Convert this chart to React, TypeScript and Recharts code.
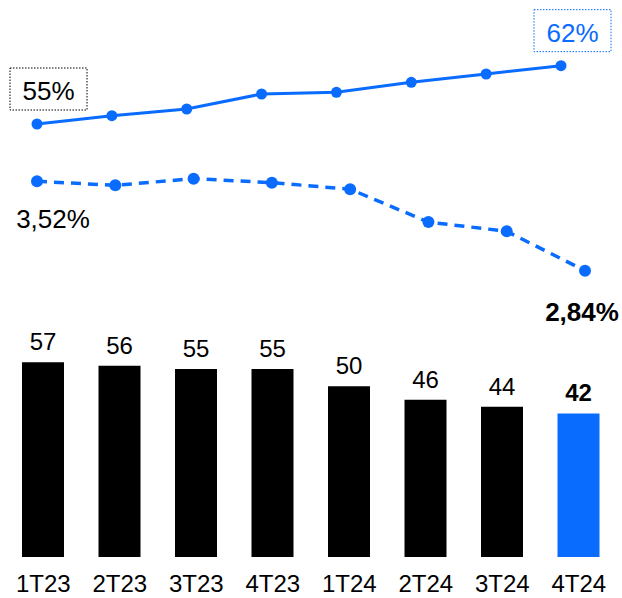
import React from 'react';
import { ComposedChart, Bar, Line, XAxis, YAxis, Cell, LabelList } from 'recharts';

const quarters = ['1T23', '2T23', '3T23', '4T23', '1T24', '2T24', '3T24', '4T24'];
const barValues = [57, 56, 55, 55, 50, 46, 44, 42];
const solidValues = [55, 56, 56.8, 58.6, 58.8, 60, 61, 62];
const dashedValues = [3.52, 3.49, 3.54, 3.51, 3.46, 3.21, 3.14, 2.84];

const BLUE = '#0a6cff';
const FONT = '"Liberation Sans", Arial, sans-serif';

const data = quarters.map((q, i) => ({
    q,
    bar: barValues[i],
    solid: solidValues[i],
    dashed: dashedValues[i]
}));

const last = quarters.length - 1;

const fmtPct = (v: number) => v.toFixed(2).replace('.', ',') + '%';

const makeDot = (r: number) => (props: any) => {
    const { cx, cy, index } = props;
    if (cx == null || cy == null) return <g key={`dot-${index}`} />;
    return <circle key={`dot-${index}`} cx={cx} cy={cy} r={r} fill={BLUE} stroke="none" />;
};

const renderBarLabel = (props: any) => {
    const { x, y, width, value, index } = props;
    return (
        <text x={x + width / 2} y={y - 12} textAnchor="middle" fontSize={24}
            fontFamily={FONT} fontWeight={index === last ? 'bold' : 'normal'} fill="#000">
            {value}
        </text>
    );
};

const renderSolidLabel = (props: any) => {
    const { x, y, value, index } = props;
    if (index !== 0 && index !== last) return null;
    const color = index === 0 ? '#000' : BLUE;
    return (
        <g>
            <rect x={x - 27} y={y - 56} width={77} height={42} fill="none"
                stroke={color} strokeWidth={1} strokeDasharray="1.5 1.5" />
            <text x={x + 11.5} y={y - 24} textAnchor="middle" fontSize={26}
                fontFamily={FONT} fill={color}>
                {value}%
            </text>
        </g>
    );
};

const renderDashedLabel = (props: any) => {
    const { x, y, value, index } = props;
    if (index === 0) {
        return (
            <text x={x + 16} y={y + 47} textAnchor="middle" fontSize={26} fontFamily={FONT} fill="#000">
                {fmtPct(value)}
            </text>
        );
    }
    if (index === last) {
        return (
            <text x={x - 3} y={y + 50} textAnchor="middle" fontSize={26} fontWeight="bold"
                fontFamily={FONT} fill="#000">
                {fmtPct(value)}
            </text>
        );
    }
    return null;
};

export default function App() {
    return (
        <div style={{ position: 'absolute', left: 0, top: 0, width: 622, height: 598, background: '#fff' }}>
            <ComposedChart width={622} height={598} data={data}
                margin={{ top: 0, right: 0, bottom: 0, left: 0 }}>
                <XAxis xAxisId="bar" dataKey="q" padding={{ left: 5, right: 5 }} height={41}
                    axisLine={false} tickLine={false} tickSize={0} tickMargin={18}
                    tick={{ fontSize: 24, fill: '#000', fontFamily: FONT }} interval={0} />
                <XAxis xAxisId="solid" dataKey="q" scale="point" padding={{ left: 37, right: 61 }} hide />
                <XAxis xAxisId="dashed" dataKey="q" scale="point" padding={{ left: 37, right: 37 }} hide />
                <YAxis yAxisId="bar" domain={[0, 163]} hide />
                <YAxis yAxisId="solid" domain={[3.04, 69.88]} hide />
                <YAxis yAxisId="dashed" domain={[0.663, 4.899]} hide />
                <Bar xAxisId="bar" yAxisId="bar" dataKey="bar" barSize={42} isAnimationActive={false}>
                    {data.map((entry, index) => (
                        <Cell key={`cell-${index}`} fill={index === last ? BLUE : '#000'} />
                    ))}
                    <LabelList dataKey="bar" content={renderBarLabel} />
                </Bar>
                <Line xAxisId="solid" yAxisId="solid" dataKey="solid" stroke={BLUE} strokeWidth={3}
                    dot={makeDot(5.5)} activeDot={false} isAnimationActive={false}>
                    <LabelList dataKey="solid" content={renderSolidLabel} />
                </Line>
                <Line xAxisId="dashed" yAxisId="dashed" dataKey="dashed" stroke={BLUE} strokeWidth={3.5}
                    strokeDasharray="10 7" dot={makeDot(6)} activeDot={false}
                    isAnimationActive={false}>
                    <LabelList dataKey="dashed" content={renderDashedLabel} />
                </Line>
            </ComposedChart>
        </div>
    );
}
